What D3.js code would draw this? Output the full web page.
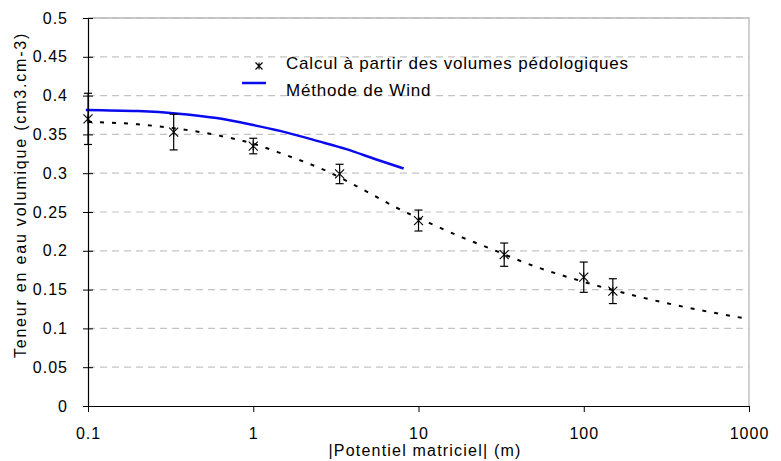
<!DOCTYPE html>
<html>
<head>
<meta charset="utf-8">
<script src="https://cdn.jsdelivr.net/npm/d3@7"></script>
<style>
  html, body { margin: 0; padding: 0; background: #fff; }
  svg text { font-family: "Liberation Sans", Arial, sans-serif; fill: #000; }
</style>
</head>
<body>
<svg id="chart" width="781" height="461"></svg>
<script>
// Measured points: matric potential (m), water content and error half-width
const potential = [0.1, 0.33, 1, 3.33, 10, 33, 100, 150];
const theta     = [0.370, 0.353, 0.335, 0.299, 0.239, 0.195, 0.166, 0.148];
const thetaErr  = [0.033, 0.023, 0.010, 0.0125, 0.0135, 0.015, 0.0195, 0.016];

// Fitted retention curve (dotted)
const fitPotential = [0.1, 0.2, 0.33, 0.57, 1, 1.5, 2.9, 4.6, 7.3, 11.6, 18.5, 25.6, 49, 100, 214, 493, 1000];
const fitTheta     = [0.366, 0.363, 0.358, 0.350, 0.338, 0.325, 0.301, 0.279, 0.256, 0.236, 0.217, 0.205, 0.181, 0.160, 0.141, 0.124, 0.112];

// Wind method curve
const windPotential = [0.097, 0.2, 0.339, 0.6, 1, 1.45, 2.5, 3.66, 5.5, 8.13];
const windTheta     = [0.3816, 0.380, 0.377, 0.371, 0.362, 0.3545, 0.341, 0.331, 0.318, 0.306];

const xTicks = [0.1, 1, 10, 100, 1000];
const xTickLabels = ["0.1", "1", "10", "100", "1000"];
const yTicks = [0, 0.05, 0.1, 0.15, 0.2, 0.25, 0.3, 0.35, 0.4, 0.45, 0.5];
const yTickLabels = ["0", "0.05", "0.1", "0.15", "0.2", "0.25", "0.3", "0.35", "0.4", "0.45", "0.5"];

const legendLabels = ["Calcul à partir des volumes pédologiques", "Méthode de Wind"];

const svg = d3.select("#chart");
const plotLeft = 88, plotRight = 749, plotTop = 18, plotBottom = 406;

const x = d3.scaleLog().domain([0.1, 1000]).range([plotLeft, plotRight]);
const y = d3.scaleLinear().domain([0, 0.5]).range([plotBottom, plotTop]);

// Horizontal dashed gridlines
svg.append("g").selectAll("line")
  .data(yTicks.filter(d => d > 0))
  .join("line")
  .attr("x1", plotLeft).attr("x2", plotRight)
  .attr("y1", d => y(d)).attr("y2", d => y(d))
  .attr("stroke", "#c4c4c4").attr("stroke-width", 1.2)
  .attr("stroke-dasharray", "7,5");

// Plot area border (top and right)
svg.append("path")
  .attr("d", `M${plotLeft},${plotTop}H${plotRight}V${plotBottom}`)
  .attr("fill", "none").attr("stroke", "#b8b8b8").attr("stroke-width", 1.3);

// Y axis
const yAxis = svg.append("g").attr("transform", `translate(${plotLeft},0)`)
  .call(d3.axisLeft(y).tickValues(yTicks).tickFormat((d, i) => yTickLabels[i]).tickSize(5).tickPadding(16));
yAxis.select(".domain").attr("stroke", "#000").attr("stroke-width", 1.2);
yAxis.selectAll(".tick line").attr("x1", 5).attr("x2", -5).attr("stroke", "#000");
yAxis.selectAll(".tick text")
  .attr("font-size", 16).attr("letter-spacing", 1).attr("dx", 1)
  .attr("font-family", "Liberation Sans, Arial, sans-serif");

// X axis
const xAxis = svg.append("g").attr("transform", `translate(0,${plotBottom})`)
  .call(d3.axisBottom(x).tickValues(xTicks).tickFormat((d, i) => xTickLabels[i]).tickSize(6).tickSizeOuter(0).tickPadding(16));
xAxis.select(".domain").attr("stroke", "#000").attr("stroke-width", 1.2);
xAxis.selectAll(".tick line").attr("stroke", "#000");
xAxis.selectAll(".tick text")
  .attr("font-size", 16).attr("letter-spacing", 1)
  .attr("font-family", "Liberation Sans, Arial, sans-serif");

// Axis titles
svg.append("text")
  .attr("x", 425).attr("y", 456)
  .attr("text-anchor", "middle").attr("font-size", 16).attr("letter-spacing", 1.2)
  .text("|Potentiel matriciel| (m)");
svg.append("text")
  .attr("transform", "translate(26,195) rotate(-90)")
  .attr("text-anchor", "middle").attr("font-size", 16).attr("letter-spacing", 1.8)
  .text("Teneur en eau volumique (cm3.cm-3)");

// Fitted dotted curve
const line = d3.line().x(d => x(d[0])).y(d => y(d[1])).curve(d3.curveMonotoneX);
svg.append("path")
  .attr("d", line(fitPotential.map((p, i) => [p, fitTheta[i]])))
  .attr("fill", "none").attr("stroke", "#000").attr("stroke-width", 2)
  .attr("stroke-dasharray", "4,8");

// Wind curve
svg.append("path")
  .attr("d", line(windPotential.map((p, i) => [p, windTheta[i]])))
  .attr("fill", "none").attr("stroke", "#0a0aee").attr("stroke-width", 2.5);

// Error bars
const eb = svg.append("g").attr("stroke", "#000").attr("stroke-width", 1.2);
potential.forEach((p, i) => {
  const cx = x(p), y1 = y(theta[i] + thetaErr[i]), y2 = y(theta[i] - thetaErr[i]);
  eb.append("line").attr("x1", cx).attr("x2", cx).attr("y1", y1).attr("y2", y2);
  eb.append("line").attr("x1", cx - 4).attr("x2", cx + 4).attr("y1", y1).attr("y2", y1);
  eb.append("line").attr("x1", cx - 4).attr("x2", cx + 4).attr("y1", y2).attr("y2", y2);
});

// Star markers
function star(g, cx, cy, r) {
  g.append("path")
    .attr("d", `M${cx - r},${cy - r}L${cx + r},${cy + r}M${cx - r},${cy + r}L${cx + r},${cy - r}M${cx},${cy - r}L${cx},${cy + r}`)
    .attr("stroke", "#000").attr("stroke-width", 1.1).attr("fill", "none");
}
const mk = svg.append("g");
potential.forEach((p, i) => star(mk, x(p), y(theta[i]), 4.5));

// Legend
const lg = svg.append("g");
star(lg, 259, 66, 3.5);
lg.append("line").attr("x1", 242).attr("x2", 266).attr("y1", 83).attr("y2", 83)
  .attr("stroke", "#0a0aee").attr("stroke-width", 2.5);
lg.append("text").attr("x", 286).attr("y", 69).attr("font-size", 17).attr("letter-spacing", 0.8).text(legendLabels[0]);
lg.append("text").attr("x", 286).attr("y", 96).attr("font-size", 17).attr("letter-spacing", 0.8).text(legendLabels[1]);
</script>
</body>
</html>
